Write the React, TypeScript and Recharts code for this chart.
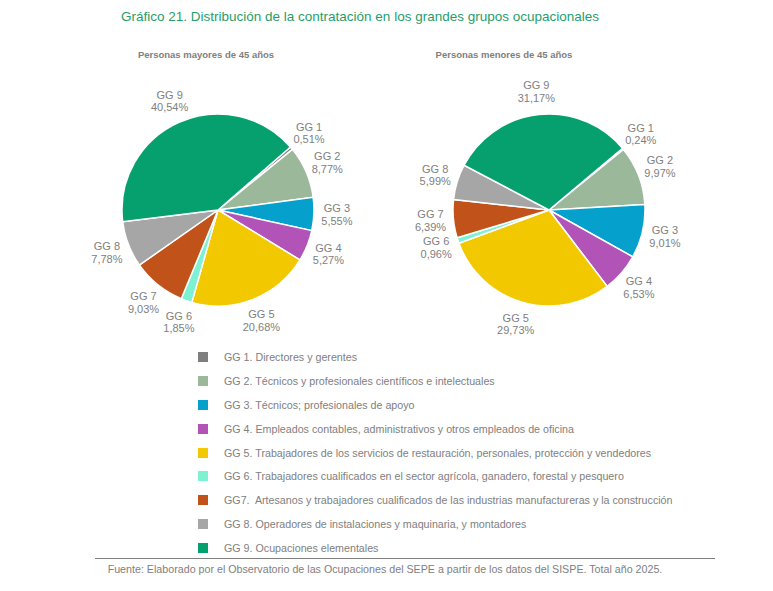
import { PieChart, Pie, Cell } from 'recharts'

const GROUPS = ['GG 1', 'GG 2', 'GG 3', 'GG 4', 'GG 5', 'GG 6', 'GG 7', 'GG 8', 'GG 9']
const OVER_45 = [0.51, 8.77, 5.55, 5.27, 20.68, 1.85, 9.03, 7.78, 40.54]
const UNDER_45 = [0.24, 9.97, 9.01, 6.53, 29.73, 0.96, 6.39, 5.99, 31.17]
const LEGEND_LABELS = [
  'GG 1. Directores y gerentes',
  'GG 2. Técnicos y profesionales científicos e intelectuales',
  'GG 3. Técnicos; profesionales de apoyo',
  'GG 4. Empleados contables, administrativos y otros empleados de oficina',
  'GG 5. Trabajadores de los servicios de restauración, personales, protección y vendedores',
  'GG 6. Trabajadores cualificados en el sector agrícola, ganadero, forestal y pesquero',
  'GG7.  Artesanos y trabajadores cualificados de las industrias manufactureras y la construcción',
  'GG 8. Operadores de instalaciones y maquinaria, y montadores',
  'GG 9. Ocupaciones elementales',
]

const COLORS = ['#7f7f7f', '#9bb89b', '#05a0cb', '#b254b7', '#f2c800', '#7cf2d2', '#c1531a', '#a6a6a6', '#05a06e']
const TEXT_GREY = '#808080'
const FONT = '"Liberation Sans", Arial, sans-serif'

const over45 = GROUPS.map((name, i) => ({ name, value: OVER_45[i] }))
const under45 = GROUPS.map((name, i) => ({ name, value: UNDER_45[i] }))

const RADIAN = Math.PI / 180
const fmt = (v: number) => v.toFixed(2).replace('.', ',') + '%'

function renderLabel(props: any) {
  const { cx, cy, midAngle, outerRadius, name, value } = props
  const r = outerRadius + 23
  const x = cx + r * Math.cos(-midAngle * RADIAN)
  const y = cy + r * Math.sin(-midAngle * RADIAN)
  return (
    <text x={x} y={y} fill={TEXT_GREY} fontSize={11} fontFamily={FONT} textAnchor="middle">
      <tspan x={x} dy={-2.5}>{name}</tspan>
      <tspan x={x} dy={12.5}>{fmt(value)}</tspan>
    </text>
  )
}

export default function App() {
  return (
    <div
      style={{
        position: 'absolute',
        left: 0,
        top: 0,
        width: 773,
        height: 591,
        background: '#fff',
        fontFamily: FONT,
        overflow: 'hidden',
      }}
    >
      <div
        style={{
          position: 'absolute',
          top: 9,
          left: 0,
          width: 720,
          textAlign: 'center',
          fontSize: 13.5,
          color: '#1f9e6c',
        }}
      >
        Gráfico 21. Distribución de la contratación en los grandes grupos ocupacionales
      </div>
      <div style={{ position: 'absolute', top: 49, left: 106, width: 200, textAlign: 'center', fontSize: 9.5, fontWeight: 700, color: TEXT_GREY }}>
        Personas mayores de 45 años
      </div>
      <div style={{ position: 'absolute', top: 49, left: 404, width: 200, textAlign: 'center', fontSize: 9.5, fontWeight: 700, color: TEXT_GREY }}>
        Personas menores de 45 años
      </div>

      <div style={{ position: 'absolute', left: 0, top: 0 }}>
        <PieChart width={773} height={340}>
          <Pie
            data={over45}
            dataKey="value"
            nameKey="name"
            cx={213}
            cy={205}
            outerRadius={96}
            startAngle={41}
            endAngle={-319}
            stroke="#fff"
            strokeWidth={1.5}
            label={renderLabel}
            labelLine={false}
            isAnimationActive={false}
          >
            {over45.map((_, i) => (
              <Cell key={i} fill={COLORS[i]} />
            ))}
          </Pie>
          <Pie
            data={under45}
            dataKey="value"
            nameKey="name"
            cx={544}
            cy={205}
            outerRadius={96}
            startAngle={40}
            endAngle={-320}
            stroke="#fff"
            strokeWidth={1.5}
            label={renderLabel}
            labelLine={false}
            isAnimationActive={false}
          >
            {under45.map((_, i) => (
              <Cell key={i} fill={COLORS[i]} />
            ))}
          </Pie>
        </PieChart>
      </div>

      <div style={{ position: 'absolute', left: 198, top: 345 }}>
        {LEGEND_LABELS.map((label, i) => (
          <div key={i} style={{ display: 'flex', alignItems: 'center', height: 23.9 }}>
            <span style={{ width: 10, height: 10, background: COLORS[i], marginRight: 16, flexShrink: 0 }} />
            <span style={{ fontSize: 10.7, color: TEXT_GREY, whiteSpace: 'pre' }}>{label}</span>
          </div>
        ))}
      </div>

      <div style={{ position: 'absolute', left: 95, top: 558, width: 620, borderTop: '1px solid #7f7f7f' }} />
      <div style={{ position: 'absolute', left: 0, top: 563, width: 770, textAlign: 'center', fontSize: 10.7, color: TEXT_GREY }}>
        Fuente: Elaborado por el Observatorio de las Ocupaciones del SEPE a partir de los datos del SISPE. Total año 2025.
      </div>
    </div>
  )
}
